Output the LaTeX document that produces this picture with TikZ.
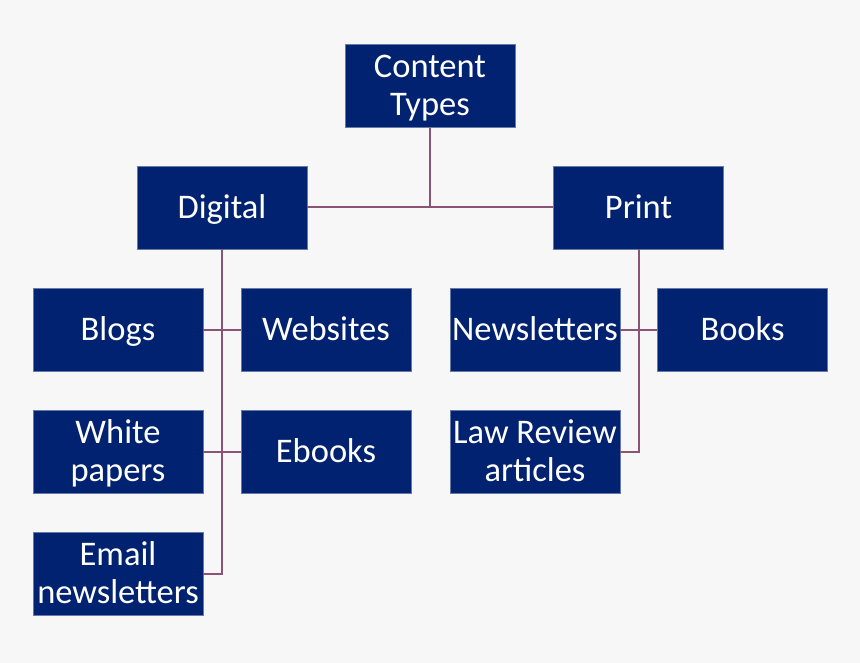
\documentclass[tikz,border=0pt]{standalone}
\usepackage{fontspec}
\setmainfont{Carlito}
\usepackage{xcolor}
\definecolor{boxnavy}{RGB}{0,34,112}
\definecolor{linkmauve}{RGB}{140,84,116}
\definecolor{pagegray}{RGB}{247,247,247}
\begin{document}
\begin{tikzpicture}[x=1pt,y=-1pt,
    typebox/.style={fill=boxnavy, draw=boxnavy!60!white, line width=0.6pt,
        text=white, font=\fontsize{34.5}{38}\selectfont, align=center,
        minimum width=170pt, minimum height=83pt, inner sep=0pt,
        text height=33.4pt, text depth=11.4pt},
    twoline/.style={typebox, text height=71pt},
    link/.style={draw=linkmauve, line width=2pt}]
% Background
\fill[pagegray] (0,0) rectangle (860,663);
\useasboundingbox (0,0) rectangle (860,663);

% Top and first level
\node[twoline] (content) at (430,86) {Content\\Types};
\node[typebox] (digital) at (222,207.5) {Digital};
\node[typebox] (print) at (638.5,207.5) {Print};

% Digital types
\node[typebox] (blogs) at (118,329.5) {Blogs};
\node[typebox] (websites) at (326,329.5) {Websites};
\node[twoline] (white) at (118,451.5) {White\\papers};
\node[typebox] (ebooks) at (326,451.5) {Ebooks};
\node[twoline] (email) at (118,574) {Email\\newsletters};

% Print types
\node[typebox] (newsletters) at (535,329.5) {Newsletters};
\node[typebox] (books) at (742.5,329.5) {Books};
\node[twoline] (law) at (535,451.5) {Law Review\\articles};

% Connectors
\draw[link] (content.south) -- (content.south |- digital.east);
\draw[link] (digital.east) -- (print.west);
\draw[link] (digital.south) |- (email.east);
\draw[link] (blogs.east) -- (websites.west);
\draw[link] (white.east) -- (ebooks.west);
\draw[link] (print.south) |- (law.east);
\draw[link] (newsletters.east) -- (books.west);
\end{tikzpicture}
\end{document}
